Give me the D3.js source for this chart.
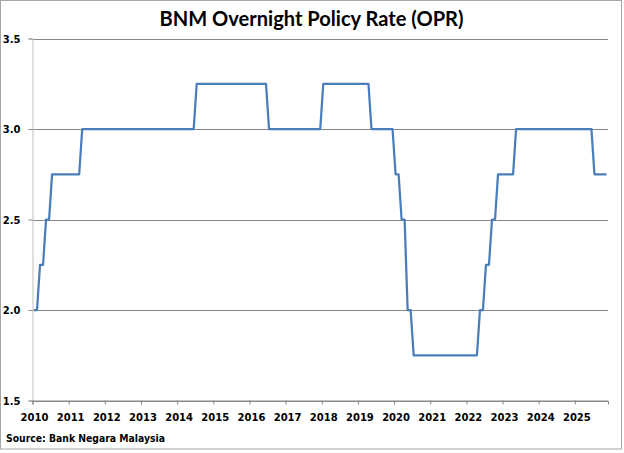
<!DOCTYPE html>
<html>
<head>
<meta charset="utf-8">
<script src="https://cdn.jsdelivr.net/npm/d3@7"></script>
<style>
  body { margin: 0; background: #fff; }
  #main svg { display: block; }
  .tickLb { font-family: "DejaVu Sans", sans-serif; font-weight: bold; font-size: 10px; fill: #000; }
</style>
</head>
<body>
<div id="main"></div>
<script>
// OPR, monthly, Jan 2010 .. Nov 2025 (percent)
var years = [2010, 2011, 2012, 2013, 2014, 2015, 2016, 2017, 2018, 2019, 2020, 2021, 2022, 2023, 2024, 2025];
var rates2010 = [2.00, 2.00, 2.25, 2.25, 2.50, 2.50, 2.75, 2.75, 2.75, 2.75, 2.75, 2.75];
var rates2011 = [2.75, 2.75, 2.75, 2.75, 3.00, 3.00, 3.00, 3.00, 3.00, 3.00, 3.00, 3.00];
var rates2012 = [3.00, 3.00, 3.00, 3.00, 3.00, 3.00, 3.00, 3.00, 3.00, 3.00, 3.00, 3.00];
var rates2013 = [3.00, 3.00, 3.00, 3.00, 3.00, 3.00, 3.00, 3.00, 3.00, 3.00, 3.00, 3.00];
var rates2014 = [3.00, 3.00, 3.00, 3.00, 3.00, 3.00, 3.25, 3.25, 3.25, 3.25, 3.25, 3.25];
var rates2015 = [3.25, 3.25, 3.25, 3.25, 3.25, 3.25, 3.25, 3.25, 3.25, 3.25, 3.25, 3.25];
var rates2016 = [3.25, 3.25, 3.25, 3.25, 3.25, 3.25, 3.00, 3.00, 3.00, 3.00, 3.00, 3.00];
var rates2017 = [3.00, 3.00, 3.00, 3.00, 3.00, 3.00, 3.00, 3.00, 3.00, 3.00, 3.00, 3.00];
var rates2018 = [3.25, 3.25, 3.25, 3.25, 3.25, 3.25, 3.25, 3.25, 3.25, 3.25, 3.25, 3.25];
var rates2019 = [3.25, 3.25, 3.25, 3.25, 3.00, 3.00, 3.00, 3.00, 3.00, 3.00, 3.00, 3.00];
var rates2020 = [2.75, 2.75, 2.50, 2.50, 2.00, 2.00, 1.75, 1.75, 1.75, 1.75, 1.75, 1.75];
var rates2021 = [1.75, 1.75, 1.75, 1.75, 1.75, 1.75, 1.75, 1.75, 1.75, 1.75, 1.75, 1.75];
var rates2022 = [1.75, 1.75, 1.75, 1.75, 2.00, 2.00, 2.25, 2.25, 2.50, 2.50, 2.75, 2.75];
var rates2023 = [2.75, 2.75, 2.75, 2.75, 3.00, 3.00, 3.00, 3.00, 3.00, 3.00, 3.00, 3.00];
var rates2024 = [3.00, 3.00, 3.00, 3.00, 3.00, 3.00, 3.00, 3.00, 3.00, 3.00, 3.00, 3.00];
var rates2025 = [3.00, 3.00, 3.00, 3.00, 3.00, 3.00, 2.75, 2.75, 2.75, 2.75, 2.75];
var yTicks = [1.5, 2.0, 2.5, 3.0, 3.5];
var title = "BNM Overnight Policy Rate (OPR)";
var source = "Source: Bank Negara Malaysia";

var ctx = {
    w: 624,
    h: 453,
    left: 32.5,
    right: 608,
    top: 38.5,
    bottom: 400.5,
    lineColor: "#4a7ebb",
    gridColor: "#888888"
};

var createViz = function() {
    var series = [].concat(rates2010, rates2011, rates2012, rates2013, rates2014, rates2015,
        rates2016, rates2017, rates2018, rates2019, rates2020, rates2021, rates2022,
        rates2023, rates2024, rates2025);

    var svg = d3.select("#main").append("svg")
        .attr("width", ctx.w)
        .attr("height", ctx.h);

    // chart border
    svg.append("rect")
        .attr("x", 0.5).attr("y", 0.5)
        .attr("width", 621).attr("height", 448.5)
        .attr("fill", "#fff")
        .attr("stroke", "#a6a6a6");

    // month index -> x ; each month is one category slot
    var xScale = d3.scaleLinear().domain([0, series.length]).range([ctx.left, ctx.right]);
    var yScale = d3.scaleLinear().domain([1.5, 3.5]).range([ctx.bottom, ctx.top]);

    // gridlines
    svg.append("g")
        .selectAll("line")
        .data(yTicks)
        .join("line")
        .attr("x1", ctx.left).attr("x2", ctx.right)
        .attr("y1", d => Math.round(yScale(d)) + 0.5)
        .attr("y2", d => Math.round(yScale(d)) + 0.5)
        .attr("stroke", ctx.gridColor);

    // y axis
    var yAxis = svg.append("g")
        .attr("transform", `translate(${ctx.left},0)`)
        .call(d3.axisLeft(yScale).tickValues(yTicks).tickFormat(d3.format(".1f")).tickSize(4).tickPadding(8));
    yAxis.select(".domain").attr("stroke", "#bfbfbf");
    yAxis.selectAll(".tick line").attr("stroke", ctx.gridColor);
    yAxis.selectAll("text").attr("class", "tickLb").attr("dy", "0.35em");

    // x axis, a tick at the start of each year
    var xAxis = svg.append("g")
        .attr("transform", `translate(0,${ctx.bottom})`)
        .call(d3.axisBottom(xScale)
            .tickValues(years.map((y, i) => i * 12))
            .tickFormat((d, i) => years[i])
            .tickSizeOuter(0)
            .tickSize(4)
            .tickPadding(9));
    xAxis.select(".domain").attr("stroke", ctx.gridColor);
    xAxis.selectAll(".tick line").attr("stroke", ctx.gridColor);
    xAxis.selectAll("text").attr("class", "tickLb").attr("x", 1.5);

    // the OPR line
    var line = d3.line()
        .x((d, i) => xScale(i + 0.5))
        .y(d => yScale(d));
    svg.append("path")
        .datum(series)
        .attr("d", line)
        .attr("fill", "none")
        .attr("stroke", ctx.lineColor)
        .attr("stroke-width", 2.25)
        .attr("stroke-linejoin", "round");

    // title
    svg.append("text")
        .attr("x", 311.5).attr("y", 26)
        .attr("text-anchor", "middle")
        .attr("textLength", 304)
        .attr("lengthAdjust", "spacingAndGlyphs")
        .style("font-family", "Lato, sans-serif")
        .style("font-weight", "bold")
        .style("font-size", "20px")
        .text(title);

    // source note
    svg.append("text")
        .attr("x", 6).attr("y", 442)
        .attr("textLength", 159)
        .attr("lengthAdjust", "spacingAndGlyphs")
        .attr("class", "tickLb")
        .text(source);
};

createViz();
</script>
</body>
</html>
